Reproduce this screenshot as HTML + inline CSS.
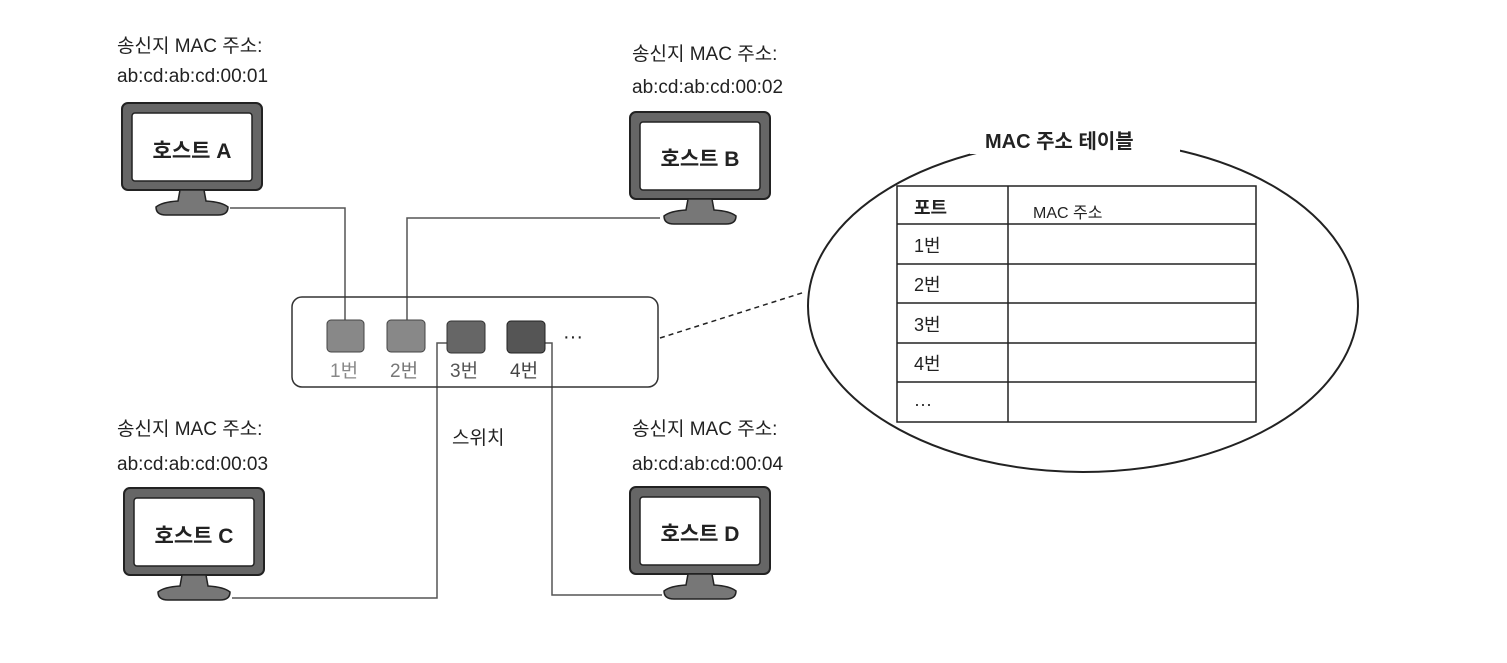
<!DOCTYPE html>
<html><head><meta charset="utf-8"><style>
body{margin:0;background:#fff}
text{font-family:"Liberation Sans","Noto Sans CJK KR",sans-serif;fill:#222}
</style></head><body>
<svg width="1507" height="658" viewBox="0 0 1507 658" xmlns="http://www.w3.org/2000/svg">
<rect width="1507" height="658" fill="#fff"/>
<defs>
<g id="mon">
<rect x="0" y="0" width="140" height="87" rx="6" fill="#666" stroke="#222" stroke-width="2"/>
<rect x="10" y="10" width="120" height="68" rx="3" fill="#fff" stroke="#222" stroke-width="1.5"/>
<path d="M58 87 L82 87 L84 98 Q100 99 106 104 Q106 112 96 112 L44 112 Q34 112 34 104 Q40 99 56 98 Z" fill="#777" stroke="#222" stroke-width="1.5"/>
</g>
</defs>
<g fill="none" stroke="#555" stroke-width="1.5">
<path d="M230 208 H345 V320"/>
<path d="M660 218 H407 V320"/>
<path d="M447 343 H437 V598 H232"/>
<path d="M545 343 H552 V595 H662"/>
</g>
<use href="#mon" x="122" y="103"/>
<use href="#mon" x="630" y="112"/>
<use href="#mon" x="124" y="488"/>
<use href="#mon" x="630" y="487"/>
<g font-size="21" font-weight="bold" text-anchor="middle">
<text x="192" y="158">호스트 A</text>
<text x="700" y="166">호스트 B</text>
<text x="194" y="543">호스트 C</text>
<text x="700" y="541">호스트 D</text>
</g>
<g font-size="19">
<text x="117" y="52">송신지 MAC 주소:</text>
<text x="117" y="82">ab:cd:ab:cd:00:01</text>
<text x="632" y="60">송신지 MAC 주소:</text>
<text x="632" y="93">ab:cd:ab:cd:00:02</text>
<text x="117" y="435">송신지 MAC 주소:</text>
<text x="117" y="470">ab:cd:ab:cd:00:03</text>
<text x="632" y="435">송신지 MAC 주소:</text>
<text x="632" y="470">ab:cd:ab:cd:00:04</text>
<text x="452" y="444">스위치</text>
</g>
<rect x="292" y="297" width="366" height="90" rx="10" fill="none" stroke="#333" stroke-width="1.5"/>
<rect x="327" y="320" width="37" height="32" rx="4" fill="#888" stroke="#444"/>
<rect x="387" y="320" width="38" height="32" rx="4" fill="#888" stroke="#444"/>
<rect x="447" y="321" width="38" height="32" rx="4" fill="#666" stroke="#333"/>
<rect x="507" y="321" width="38" height="32" rx="4" fill="#555" stroke="#222"/>
<text x="563" y="343" font-size="20">···</text>
<g font-size="19" fill="#777">
<text x="330" y="377" style="fill:#888">1번</text>
<text x="390" y="377" style="fill:#777">2번</text>
<text x="450" y="377" style="fill:#555">3번</text>
<text x="510" y="377" style="fill:#444">4번</text>
</g>
<line x1="660" y1="338" x2="805" y2="292" stroke="#222" stroke-width="1.5" stroke-dasharray="5,4"/>
<ellipse cx="1083" cy="306" rx="275" ry="166" fill="none" stroke="#222" stroke-width="2"/>
<rect x="970" y="126" width="210" height="28" fill="#fff"/>
<text x="985" y="148" font-size="20" font-weight="bold">MAC 주소 테이블</text>
<g stroke="#222" stroke-width="1.5" fill="none">
<rect x="897" y="186" width="359" height="236"/>
<line x1="1008" y1="186" x2="1008" y2="422"/>
<line x1="897" y1="224" x2="1256" y2="224"/>
<line x1="897" y1="264" x2="1256" y2="264"/>
<line x1="897" y1="303" x2="1256" y2="303"/>
<line x1="897" y1="343" x2="1256" y2="343"/>
<line x1="897" y1="382" x2="1256" y2="382"/>
</g>
<g font-size="18">
<text x="914" y="214" font-weight="bold">포트</text>
<text x="1033" y="218" font-size="16">MAC 주소</text>
<text x="914" y="252">1번</text>
<text x="914" y="291">2번</text>
<text x="914" y="331">3번</text>
<text x="914" y="370">4번</text>
<text x="914" y="410">···</text>
</g>
</svg>
</body></html>
